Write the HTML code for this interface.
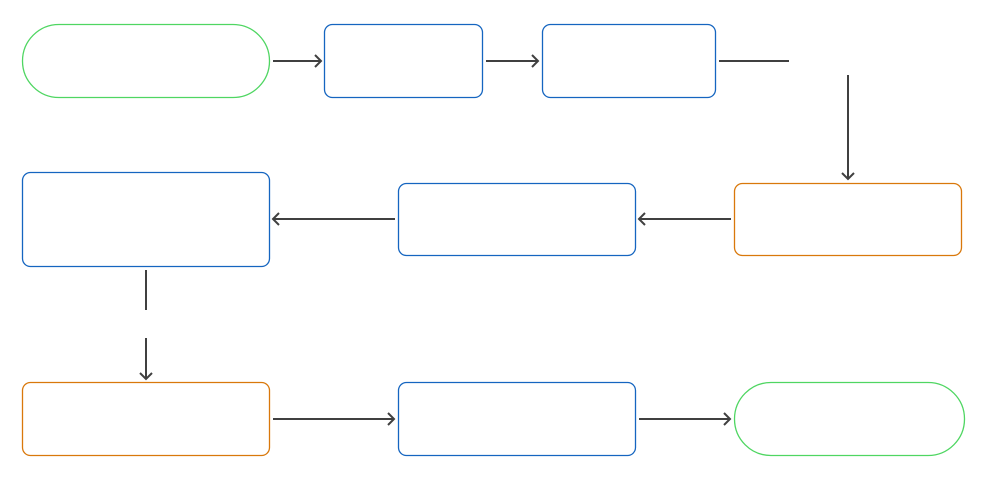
<!DOCTYPE html>
<html><head><meta charset="utf-8"><style>html,body{margin:0;padding:0;background:#fff;}svg{display:block}</style></head>
<body>
<svg width="988" height="480" viewBox="0 0 988 480" xmlns="http://www.w3.org/2000/svg">
<g fill="none" stroke-width="1.3">
<rect x="22.5" y="24.5" width="247" height="73" rx="36.5" stroke="#4fd662"/>
<rect x="324.5" y="24.5" width="158" height="73" rx="8" stroke="#1565c0"/>
<rect x="542.5" y="24.5" width="173" height="73" rx="8" stroke="#1565c0"/>
<rect x="734.5" y="183.5" width="227" height="72" rx="8" stroke="#d9780b"/>
<rect x="398.5" y="183.5" width="237" height="72" rx="8" stroke="#1565c0"/>
<rect x="22.5" y="172.5" width="247" height="94" rx="8" stroke="#1565c0"/>
<rect x="22.5" y="382.5" width="247" height="73" rx="8" stroke="#d9780b"/>
<rect x="398.5" y="382.5" width="237" height="73" rx="8" stroke="#1565c0"/>
<rect x="734.5" y="382.5" width="230" height="73" rx="36.5" stroke="#4fd662"/>
</g>
<g fill="none" stroke="#404040" stroke-width="2">
<path d="M273 61H321M315 55l6 6-6 6"/>
<path d="M486 61H538M532 55l6 6-6 6"/>
<path d="M719 61H789"/>
<path d="M848 75V179M842 173l6 6 6-6"/>
<path d="M731 219H639M645 213l-6 6 6 6"/>
<path d="M395 219H273M279 213l-6 6 6 6"/>
<path d="M146 270V310"/>
<path d="M146 338V379M140 373l6 6 6-6"/>
<path d="M273 419H394M388 413l6 6-6 6"/>
<path d="M639 419H730M724 413l6 6-6 6"/>
</g>
</svg>
</body></html>
